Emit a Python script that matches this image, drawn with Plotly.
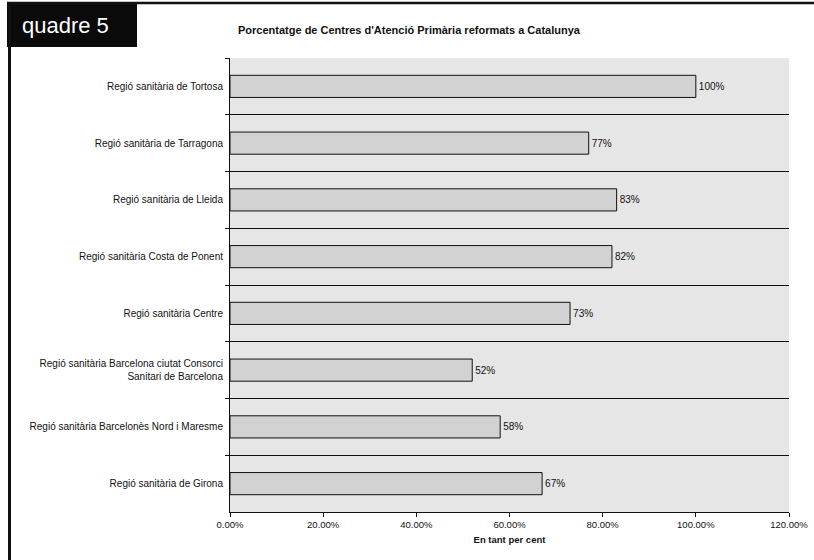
import plotly.graph_objects as go

categories = [
    "Regió sanitària de Tortosa",
    "Regió sanitària de Tarragona",
    "Regió sanitària de Lleida",
    "Regió sanitària Costa de Ponent",
    "Regió sanitària Centre",
    "Regió sanitària Barcelona ciutat Consorci<br>Sanitari de Barcelona",
    "Regió sanitària Barcelonès Nord i Maresme",
    "Regió sanitària de Girona",
]
values = [100, 77, 83, 82, 73, 52, 58, 67]
x_ticks = [0, 20, 40, 60, 80, 100, 120]
x_tick_labels = [f"{t:.2f}%" for t in x_ticks]

title_text = "Porcentatge de Centres d'Atenció Primària reformats a Catalunya"
badge_text = "quadre 5"
x_title = "En tant per cent"

W, H = 814, 560
L, R, T, B = 230, 25, 58, 48
pw, ph = W - L - R, H - T - B

def px(x):
    return (x - L) / pw

def py(y):
    return (H - B - y) / ph

font = "Liberation Sans, Arial, sans-serif"

fig = go.Figure(go.Bar(
    y=categories,
    x=values,
    orientation="h",
    marker=dict(color="#d2d2d2", line=dict(color="#111111", width=1)),
    text=[f"{v}%" for v in values],
    textposition="outside",
    textfont=dict(size=10, color="#111111", family=font),
    cliponaxis=False,
))

fig.update_layout(
    width=W, height=H,
    margin=dict(l=L, r=R, t=T, b=B),
    paper_bgcolor="white",
    plot_bgcolor="#e6e6e6",
    bargap=0.61,
    showlegend=False,
    font=dict(family=font, size=9, color="#111111"),
    title=dict(
        text="<b>" + title_text + "</b>",
        font=dict(size=11, family=font, color="#111111"),
        x=238 / W, xanchor="left", xref="container",
        y=1 - 30 / H, yanchor="middle", yref="container",
    ),
    xaxis=dict(
        range=[0, 120],
        automargin=False,
        tickvals=x_ticks,
        ticktext=x_tick_labels,
        showgrid=False,
        zeroline=False,
        showline=True, linecolor="#111111", linewidth=1,
        ticks="outside", ticklen=4, tickcolor="#111111",
        tickfont=dict(size=9.5, family=font),
        title=dict(text="<b>" + x_title + "</b>", font=dict(size=9.5, family=font), standoff=6),
    ),
    yaxis=dict(
        type="category",
        automargin=False,
        autorange="reversed",
        tickson="boundaries",
        showgrid=True, gridcolor="#111111", gridwidth=1.3,
        showline=True, linecolor="#111111", linewidth=1,
        ticks="outside", ticklen=4, tickcolor="#111111",
        ticklabelstandoff=4,
        tickfont=dict(size=10, family=font),
    ),
)

# Frame and badge
fig.add_shape(type="rect", xref="paper", yref="paper",
              x0=px(7), x1=px(137), y0=py(47), y1=py(4),
              fillcolor="#0a0a0a", line=dict(width=0), layer="above")
fig.add_shape(type="line", xref="paper", yref="paper",
              x0=px(7), x1=px(814), y0=py(3), y1=py(3),
              line=dict(color="#111111", width=2.5))
fig.add_shape(type="line", xref="paper", yref="paper",
              x0=px(9.5), x1=px(9.5), y0=py(5), y1=py(560),
              line=dict(color="#111111", width=3))
fig.add_annotation(text=badge_text, xref="paper", yref="paper",
                   x=px(20), y=py(26), xanchor="left", yanchor="middle",
                   showarrow=False,
                   font=dict(size=22, color="white", family=font))

fig.write_html("out.html")
